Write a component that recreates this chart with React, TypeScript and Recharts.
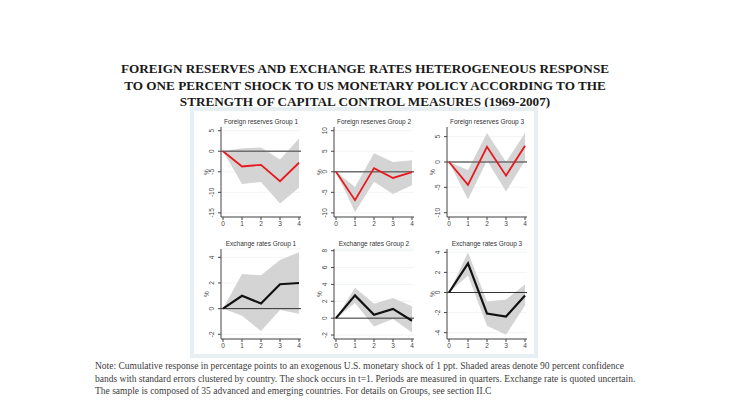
import React from 'react'
import {
  ComposedChart,
  Area,
  Line,
  XAxis,
  YAxis,
  CartesianGrid,
  ReferenceLine,
} from 'recharts'

// quarters after the shock
const periods = [0, 1, 2, 3, 4]

// foreign reserves, %
const reservesG1 = [0, -3.7, -3.3, -7.3, -2.8]
const reservesG1Lo = [0, -8.0, -7.5, -12.7, -8.9]
const reservesG1Hi = [0, 0.7, 0.9, -2.0, 3.1]

const reservesG2 = [0, -6.9, 0.9, -1.5, -0.1]
const reservesG2Lo = [0, -9.8, -2.4, -5.4, -3.3]
const reservesG2Hi = [0, -3.7, 4.5, 2.4, 2.8]

const reservesG3 = [0, -4.5, 3.0, -2.7, 3.2]
const reservesG3Lo = [0, -7.4, 0.3, -5.8, 0.3]
const reservesG3Hi = [0, -1.6, 5.7, 0.0, 5.7]

// exchange rates, %
const fxG1 = [0, 1.0, 0.4, 1.9, 2.0]
const fxG1Lo = [0, -0.55, -1.75, -0.1, -0.4]
const fxG1Hi = [0, 2.7, 2.6, 3.8, 4.4]

const fxG2 = [0, 2.7, 0.4, 1.1, -0.3]
const fxG2Lo = [0, 1.8, -1.0, -0.1, -1.7]
const fxG2Hi = [0, 3.6, 1.7, 2.4, 1.4]

const fxG3 = [0, 2.9, -2.1, -2.4, -0.3]
const fxG3Lo = [0, 1.7, -3.3, -4.2, -1.3]
const fxG3Hi = [0, 4.0, -0.9, -0.7, 0.8]

const titleLines = [
  'FOREIGN RESERVES AND EXCHANGE RATES HETEROGENEOUS RESPONSE',
  'TO ONE PERCENT SHOCK TO US MONETARY POLICY ACCORDING TO THE',
  'STRENGTH OF CAPITAL CONTROL MEASURES (1969-2007)',
]

const noteLines = [
  'Note: Cumulative response in percentage points to an exogenous U.S. monetary shock of 1 ppt. Shaded areas denote 90 percent confidence',
  'bands with standard errors clustered by country. The shock occurs in t=1. Periods are measured in quarters. Exchange rate is quoted uncertain.',
  'The sample is composed of 35 advanced and emerging countries. For details on Groups, see section II.C',
]

const build = (est: number[], lo: number[], hi: number[]) =>
  periods.map((p, i) => ({ t: p, est: est[i], band: [lo[i], hi[i]] }))

const YTick = (props: any) => {
  const { x, y, payload } = props
  return (
    <text
      x={x}
      y={y}
      transform={`rotate(-90 ${x} ${y})`}
      textAnchor='middle'
      fontSize={6.5}
      fill='#444'
      fontFamily='Liberation Sans, Arial, sans-serif'
    >
      {payload.value}
    </text>
  )
}

const PctLabel = (props: any) => {
  const vb = props.viewBox || { x: 8, y: 11, height: 90 }
  const x = vb.x + 7.5
  const y = vb.y + vb.height / 2
  return (
    <text
      x={x}
      y={y}
      transform={`rotate(-90 ${x} ${y})`}
      textAnchor='middle'
      fontSize={6.5}
      fill='#444'
      fontFamily='Liberation Sans, Arial, sans-serif'
    >
      %
    </text>
  )
}

interface PanelProps {
  title: string
  data: { t: number; est: number; band: number[] }[]
  ticks: number[]
  domain: [number, number]
  left: number
  top: number
  lineColor: string
  lineWidth: number
  zeroColor: string
  zeroWidth: number
}

const Panel: React.FC<PanelProps> = ({
  title,
  data,
  ticks,
  domain,
  left,
  top,
  lineColor,
  lineWidth,
  zeroColor,
  zeroWidth,
}) => (
  <div style={{ position: 'absolute', left, top, width: 112, height: 119 }}>
    <div
      style={{
        position: 'absolute',
        left: 28,
        width: 80,
        top: 2,
        textAlign: 'center',
        fontFamily: 'Liberation Sans, Arial, sans-serif',
        fontSize: 6.5,
        color: '#333',
        whiteSpace: 'nowrap',
      }}
    >
      {title}
    </div>
    <ComposedChart
      width={112}
      height={119}
      data={data}
      margin={{ top: 11, right: 4, bottom: 2, left: 8 }}
    >
      <CartesianGrid vertical={false} stroke='#eef1f3' strokeWidth={0.8} />
      <XAxis
        dataKey='t'
        type='number'
        domain={[0, 4]}
        ticks={periods}
        interval={0}
        padding={{ left: 2, right: 2 }}
        height={16}
        tickSize={3}
        tickMargin={1}
        tick={{ fontSize: 6.5, fill: '#444', fontFamily: 'Liberation Sans, Arial, sans-serif' }}
        stroke='#444'
      />
      <YAxis
        type='number'
        domain={domain}
        ticks={ticks}
        interval={0}
        allowDataOverflow
        width={20}
        tickSize={3}
        tickMargin={4}
        tick={<YTick />}
        stroke='#444'
        label={PctLabel}
      />
      <Area
        dataKey='band'
        type='linear'
        fill='#d4d4d4'
        fillOpacity={1}
        stroke='none'
        isAnimationActive={false}
        activeDot={false}
      />
      <ReferenceLine y={0} stroke={zeroColor} strokeWidth={zeroWidth} />
      <Line
        dataKey='est'
        type='linear'
        stroke={lineColor}
        strokeWidth={lineWidth}
        dot={false}
        activeDot={false}
        isAnimationActive={false}
      />
    </ComposedChart>
  </div>
)

const RED = '#e8191e'
const BLACK = '#111111'

const App: React.FC = () => (
  <div
    style={{
      position: 'absolute',
      left: 0,
      top: 0,
      width: 730,
      height: 410,
      background: '#ffffff',
      fontFamily: 'Liberation Serif, Times New Roman, serif',
      overflow: 'hidden',
    }}
  >
    <div
      style={{
        position: 'absolute',
        top: 61,
        left: 0,
        width: 730,
        textAlign: 'center',
        fontWeight: 'bold',
        fontSize: 13.2,
        lineHeight: '16.5px',
        color: '#1a1a1a',
      }}
    >
      {titleLines.map((l) => (
        <div key={l}>{l}</div>
      ))}
    </div>
    <div
      style={{
        position: 'absolute',
        left: 190,
        top: 107,
        width: 348,
        height: 251,
        background: '#e7eff2',
      }}
    >
      <div
        style={{
          position: 'absolute',
          left: 4,
          top: 4,
          right: 4,
          bottom: 4,
          background: '#ffffff',
        }}
      />
    </div>
    <Panel
      title='Foreign reserves Group 1'
      data={build(reservesG1, reservesG1Lo, reservesG1Hi)}
      ticks={[-15, -10, -5, 0, 5]}
      domain={[-16, 5.9]}
      left={193}
      top={116}
      lineColor={RED}
      lineWidth={1.8}
      zeroColor='#6e6e6e'
      zeroWidth={1.6}
    />
    <Panel
      title='Foreign reserves Group 2'
      data={build(reservesG2, reservesG2Lo, reservesG2Hi)}
      ticks={[-10, -5, 0, 5, 10]}
      domain={[-11, 10.9]}
      left={306}
      top={116}
      lineColor={RED}
      lineWidth={1.8}
      zeroColor='#6e6e6e'
      zeroWidth={1.6}
    />
    <Panel
      title='Foreign reserves Group 3'
      data={build(reservesG3, reservesG3Lo, reservesG3Hi)}
      ticks={[-10, -5, 0, 5]}
      domain={[-10.85, 6.9]}
      left={419}
      top={116}
      lineColor={RED}
      lineWidth={1.8}
      zeroColor='#6e6e6e'
      zeroWidth={1.6}
    />
    <Panel
      title='Exchange rates Group 1'
      data={build(fxG1, fxG1Lo, fxG1Hi)}
      ticks={[-2, 0, 2, 4]}
      domain={[-2.37, 4.65]}
      left={193}
      top={238}
      lineColor={BLACK}
      lineWidth={2.2}
      zeroColor='#333333'
      zeroWidth={1}
    />
    <Panel
      title='Exchange rates Group 2'
      data={build(fxG2, fxG2Lo, fxG2Hi)}
      ticks={[-2, 0, 2, 4, 6, 8]}
      domain={[-2.47, 8.2]}
      left={306}
      top={238}
      lineColor={BLACK}
      lineWidth={2.2}
      zeroColor='#333333'
      zeroWidth={1}
    />
    <Panel
      title='Exchange rates Group 3'
      data={build(fxG3, fxG3Lo, fxG3Hi)}
      ticks={[-4, -2, 0, 2, 4]}
      domain={[-4.63, 4.33]}
      left={419}
      top={238}
      lineColor={BLACK}
      lineWidth={2.2}
      zeroColor='#333333'
      zeroWidth={1}
    />
    <div
      style={{
        position: 'absolute',
        left: 95,
        top: 360,
        fontSize: 9.5,
        lineHeight: '12.7px',
        color: '#3c3c3c',
        whiteSpace: 'nowrap',
      }}
    >
      {noteLines.map((l) => (
        <div key={l}>{l}</div>
      ))}
    </div>
  </div>
)

export default App
